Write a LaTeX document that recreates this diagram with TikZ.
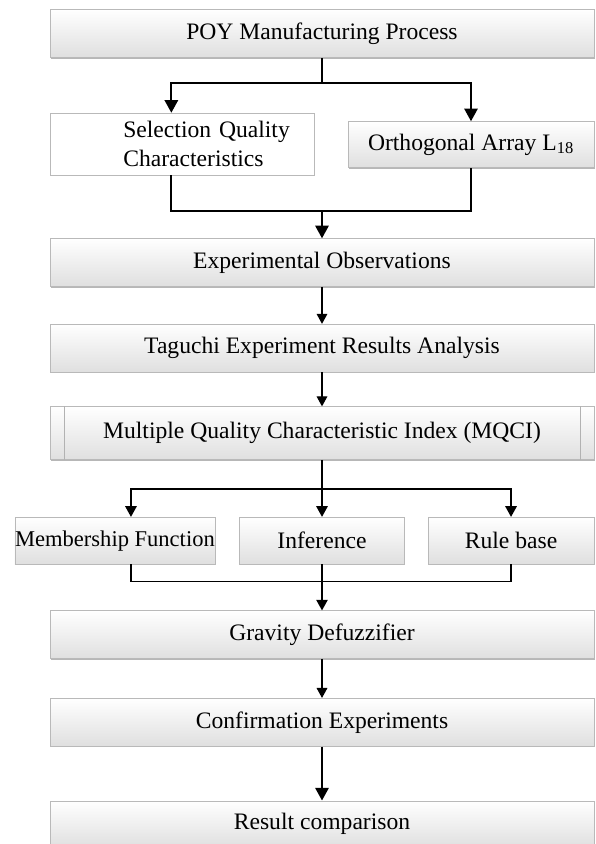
\documentclass[tikz,border=0pt]{standalone}
\usepackage{fontspec}
\setmainfont{Liberation Serif}
\usetikzlibrary{arrows.meta, positioning, shadows}

\begin{document}
\begin{tikzpicture}[
    node distance=2cm,
    box/.style={rectangle, draw=gray!55, top color=white, bottom color=gray!25, drop shadow={shadow xshift=0.6pt, shadow yshift=-0.9pt, fill=gray!80, opacity=0.7}, minimum width=408pt, minimum height=36pt, inner sep=0pt, align=center, font=\fontsize{17.7}{21}\selectfont},
    plainbox/.style={rectangle, draw=gray!55, fill=white, minimum width=198pt, minimum height=46.5pt, inner sep=0pt, text width=198pt, align=left, font=\fontsize{17.7}{22}\selectfont},
    line/.style={line width=0.9pt},
    arrow/.style={line width=0.9pt, -{Triangle[width=8pt, length=7.5pt]}},
    midline/.style={line width=1.2pt},
    midarrow/.style={line width=1.2pt, -{Triangle[width=8.5pt, length=8pt]}},
    bigline/.style={line width=1.5pt},
    bigarrow/.style={line width=1.5pt, -{Triangle[width=10pt, length=9.5pt]}}
]
\useasboundingbox (0,0) rectangle (447pt,-633pt);

% Nodes
\node (poy) [box] at (241.5pt,-25.125pt) {POY Manufacturing Process};
\node (sel) [plainbox, below=41.25pt of poy.south west, anchor=north west] {\hspace*{55pt}Selection Quality\\\hspace*{55pt}Characteristics};
\node (orth) [box, minimum width=184.5pt, minimum height=34.5pt, below=47.6pt of poy.south east, anchor=north east] {Orthogonal Array L\textsubscript{18}};
\node (exp) [box, below=135.4pt of poy] {Experimental Observations};
\node (tag) [box, below=27.75pt of exp] {Taguchi Experiment Results Analysis};
\node (mqci) [box, minimum height=39.75pt, below=25.5pt of tag] {Multiple Quality Characteristic Index (MQCI)};
\node (inf) [box, minimum width=123.75pt, minimum height=35.25pt, below=42.75pt of mqci] {Inference};
\node (memb) [box, minimum width=150pt, minimum height=35.25pt, font=\fontsize{16.9}{21}\selectfont, left=18pt of inf] {Membership Function};
\node (rule) [box, minimum width=124.5pt, minimum height=35.25pt, right=17.25pt of inf] {Rule base};
\node (grav) [box, below=34.5pt of inf] {Gravity Defuzzifier};
\node (conf) [box, below=29.25pt of grav] {Confirmation Experiments};
\node (res) [box, minimum height=35.25pt, below=40.5pt of conf] {Result comparison};

% side bars of the MQCI box
\draw [gray!60] ([xshift=11.25pt]mqci.north west) -- ([xshift=11.25pt]mqci.south west);
\draw [gray!60] ([xshift=-10.5pt]mqci.north east) -- ([xshift=-10.5pt]mqci.south east);

% Junctions
\coordinate [below=19.1pt of poy.south] (fork1);
\coordinate [above=20.25pt of exp.north] (merge1);
\coordinate [below=21.75pt of mqci.south] (fork2);
\coordinate [above=21.75pt of grav.north] (merge2);

% Arrows
\draw [bigline] (poy) -- (fork1);
\draw [bigarrow] (fork1) -| ([xshift=-8pt]sel.north);
\draw [bigarrow] (fork1) -| (orth);
\draw [bigline] ([xshift=-8pt]sel.south) |- (merge1) -| (orth.south);
\draw [bigarrow] (merge1) -- (exp);
\draw [arrow] (exp) -- (tag);
\draw [arrow] (tag) -- (mqci);
\draw [midline] (mqci) -- (fork2);
\draw [midarrow] (fork2) -| ([xshift=12pt]memb.north);
\draw [midarrow] (fork2) -- (inf);
\draw [midarrow] (fork2) -| (rule);
\draw [midline] ([xshift=12pt]memb.south) |- (merge2) -| (rule.south);
\draw [midarrow] (inf) -- (grav);
\draw [arrow] (grav) -- (conf);
\draw [bigarrow] (conf) -- (res);

\end{tikzpicture}
\end{document}
